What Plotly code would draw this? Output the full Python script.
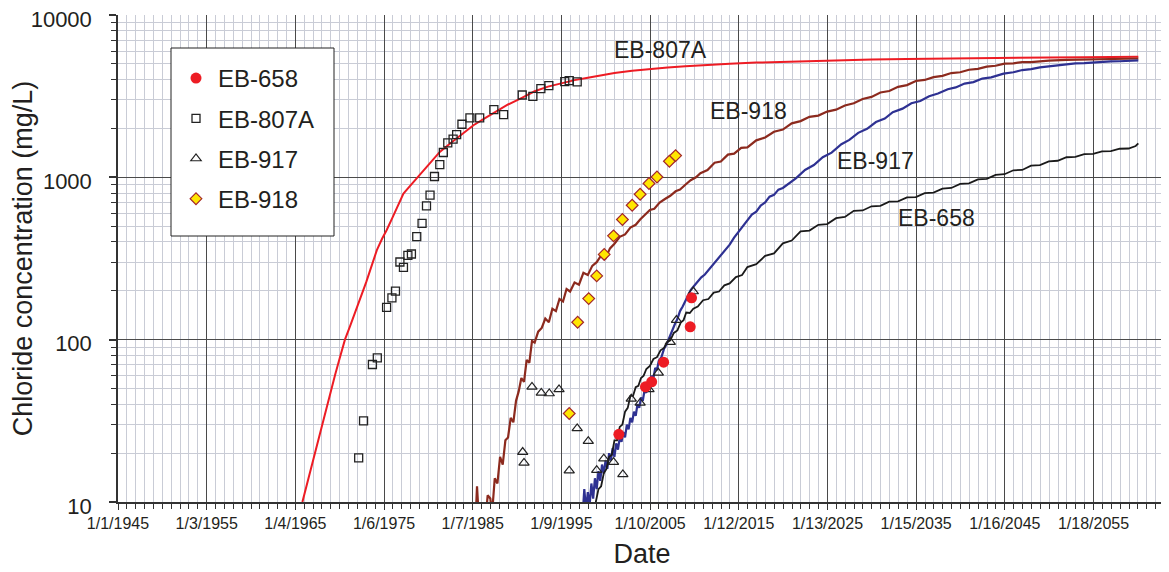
import pandas as pd
import plotly.graph_objects as go

# ---------------- data (decimal years, mg/L) ----------------
# Observed EB-658
obs658_year = [2001.5, 2004.5, 2005.2, 2006.55, 2009.55, 2009.7]
obs658_val = [26.1, 51.2, 55.0, 72.7, 120, 181]

# Observed EB-807A
obs807_year = [1972.15, 1972.7, 1973.7, 1974.25, 1975.3, 1975.9, 1976.3, 1976.8, 1977.2,
               1977.7, 1978.1, 1978.7, 1979.3, 1979.8, 1980.2, 1980.7, 1981.3, 1981.7,
               1982.2, 1982.8, 1983.2, 1983.8, 1984.7, 1985.8, 1987.4, 1988.5, 1990.6,
               1991.8, 1992.7, 1993.6, 1995.4, 1995.9, 1996.8]
obs807_val = [18.7, 31.6, 70.3, 77.2, 158, 181, 199, 301, 279,
              331, 337, 431, 521, 667, 776, 1012, 1199, 1422,
              1629, 1717, 1834, 2123, 2322, 2322, 2613, 2436, 3216,
              3155, 3523, 3673, 3890, 3945, 3873]

# Observed EB-917
obs917_year = [1990.65, 1990.8, 1991.7, 1992.75, 1993.65, 1994.75, 1995.9, 1996.8, 1998.05,
               1999.0, 1999.8, 2000.9, 2001.95, 2002.9, 2003.9, 2004.9, 2005.95, 2007.3,
               2008.0, 2009.9]
obs917_val = [20.3, 17.4, 51.2, 47.0, 46.6, 49.4, 15.6, 28.4, 23.7,
              15.7, 18.5, 17.6, 14.8, 43.2, 40.8, 49.4, 62.5, 96.6,
              132, 198]

# Observed EB-918
obs918_year = [1995.9, 1996.85, 1998.1, 1999.0, 1999.85, 2000.9, 2001.9, 2003.0, 2003.9,
               2004.9, 2005.8, 2007.2, 2007.9]
obs918_val = [35.1, 128, 179, 247, 335, 436, 550, 673, 787,
              916, 1005, 1256, 1361]

# Simulated EB-807A (red line)
sim807_year = [1965.8, 1966.3, 1966.8, 1967.3, 1967.8, 1968.3, 1968.9, 1969.5, 1970.0, 1970.6,
               1971.2, 1971.8, 1972.4, 1973.0, 1973.6, 1974.2, 1974.8, 1975.3, 1976.0, 1976.6,
               1977.2, 1978.0, 1978.9, 1980.0, 1981.3, 1982.5, 1983.8, 1985.1, 1986.5, 1987.8,
               1989.0, 1990.5, 1992.0, 1993.5, 1995.0, 1996.5, 1998.0, 1999.5, 2001.0, 2003.0,
               2005.0, 2007.0, 2009.0, 2011.0, 2014.0, 2017.0, 2020.0, 2023.0, 2026.0, 2030.0,
               2034.0, 2038.0, 2042.0, 2046.0, 2050.0, 2054.0, 2057.0, 2060.1]
sim807_val = [10, 12.8, 16.4, 21, 27, 34.7, 46.6, 61, 76.5, 100,
              122, 149, 182, 226, 284, 356, 420, 472, 571, 675,
              795, 892, 1016, 1200, 1435, 1620, 1840, 2094, 2330, 2570,
              2810, 3080, 3390, 3620, 3790, 3970, 4110, 4260, 4390, 4530,
              4650, 4750, 4840, 4920, 5010, 5090, 5150, 5210, 5260, 5320,
              5360, 5400, 5430, 5460, 5480, 5500, 5515, 5530]

# Simulated EB-918 (brown line)
sim918_year = [1985.3, 1985.5, 1985.7, 1986.0, 1986.4, 1986.7, 1987.0, 1987.2, 1987.5, 1987.8,
               1988.1, 1988.4, 1988.7, 1989.0, 1989.3, 1989.6, 1989.9, 1990.2, 1990.5, 1990.8,
               1991.1, 1991.4, 1991.7, 1992.0, 1992.4, 1992.8, 1993.2, 1993.6, 1994.0, 1994.4,
               1994.8, 1995.2, 1995.6, 1996.0, 1996.5, 1997.0, 1997.5, 1998.0, 1998.5, 1999.0,
               1999.5, 2000.0, 2000.5, 2001.0, 2001.6, 2002.2, 2002.8, 2003.4, 2003.9, 2004.5,
               2005.0, 2005.5, 2006.1, 2006.7, 2007.3, 2007.9, 2008.4, 2009.0, 2009.6, 2010.2,
               2010.7, 2011.5, 2012.3, 2013.0, 2013.8, 2014.5, 2015.3, 2016.0, 2017.0, 2018.0,
               2019.0, 2020.0, 2021.0, 2022.0, 2023.0, 2024.0, 2025.0, 2026.0, 2027.0, 2028.0,
               2029.0, 2030.0, 2031.0, 2032.0, 2033.0, 2034.0, 2035.0, 2036.0, 2037.0, 2038.0,
               2039.0, 2040.0, 2041.0, 2042.0, 2043.0, 2044.0, 2045.0, 2046.0, 2047.0, 2048.0,
               2049.0, 2050.0, 2052.0, 2054.0, 2056.0, 2058.0, 2060.1]
sim918_val = [7, 12.5, 8, 9, 7, 11, 10.5, 8.5, 14, 13,
              19, 17, 24, 25, 33, 31, 42, 48, 58, 55,
              75, 72, 98, 96, 112, 118, 135, 128, 155, 150,
              178, 172, 205, 198, 225, 218, 258, 250, 285, 300,
              330, 318, 365, 390, 430, 445, 490, 510, 550, 590,
              630, 640, 700, 735, 770, 820, 840, 900, 960, 1000,
              1060, 1110, 1230, 1250, 1380, 1400, 1520, 1530, 1690, 1760,
              1910, 1970, 2150, 2220, 2360, 2400, 2540, 2610, 2770, 2860,
              3040, 3130, 3330, 3400, 3610, 3700, 3920, 3980, 4140, 4220,
              4390, 4440, 4600, 4660, 4810, 4870, 5020, 5040, 5120, 5130,
              5210, 5240, 5290, 5310, 5350, 5360, 5395]

# Simulated EB-917 (blue line)
sim917_year = [1997.4, 1997.6, 1997.8, 1998.0, 1998.2, 1998.4, 1998.6, 1998.8, 1999.0, 1999.2,
               1999.4, 1999.6, 1999.8, 2000.0, 2000.2, 2000.4, 2000.6, 2000.8, 2001.0, 2001.2,
               2001.4, 2001.6, 2001.8, 2002.0, 2002.2, 2002.4, 2002.6, 2002.8, 2003.0, 2003.2,
               2003.4, 2003.6, 2003.8, 2004.0, 2004.2, 2004.4, 2004.6, 2004.8, 2005.0, 2005.2,
               2005.4, 2005.6, 2005.8, 2006.0, 2006.3, 2006.6, 2006.9, 2007.2, 2007.5, 2007.8,
               2008.1, 2008.4, 2008.7, 2009.0, 2009.3, 2009.6, 2010.0, 2010.4, 2010.8, 2011.2,
               2011.6, 2012.0, 2012.5, 2013.0, 2013.5, 2014.0, 2014.5, 2015.0, 2015.5, 2016.0,
               2016.5, 2017.0, 2017.5, 2018.0, 2018.5, 2019.0, 2019.5, 2020.0, 2020.8, 2021.5,
               2022.5, 2023.5, 2024.5, 2025.5, 2026.6, 2027.5, 2028.5, 2029.5, 2030.5, 2031.5,
               2032.4, 2033.5, 2034.5, 2035.5, 2036.5, 2037.5, 2038.6, 2039.5, 2040.5, 2041.5,
               2042.5, 2043.5, 2044.9, 2046.0, 2047.0, 2048.0, 2049.0, 2050.0, 2051.0, 2052.0,
               2053.0, 2054.0, 2055.0, 2056.0, 2057.0, 2058.0, 2059.0, 2060.1]
sim917_val = [8, 12, 9, 11.5, 9.5, 13, 10.5, 14, 12, 15.5,
              13.5, 17, 15, 18, 16, 20, 18, 21.5, 19, 23,
              21, 25, 23.5, 27, 25, 30, 28, 33, 31, 36,
              34, 40, 38, 44, 42, 49, 47, 54, 53, 60,
              58, 67, 65, 74, 78, 88, 94, 104, 112, 124,
              134, 150, 160, 174, 186, 202, 215, 228, 242, 252,
              268, 285, 305, 330, 355, 385, 425, 460, 505, 540,
              590, 615, 670, 700, 760, 780, 840, 860, 930, 990,
              1110, 1190, 1330, 1420, 1600, 1700, 1880, 1990, 2190, 2300,
              2520, 2650, 2860, 2950, 3160, 3280, 3490, 3580, 3780, 3860,
              4060, 4130, 4350, 4440, 4580, 4640, 4760, 4820, 4920, 4950,
              5030, 5050, 5110, 5130, 5180, 5190, 5230, 5250]

# Simulated EB-658 (black line)
sim658_year = [1998.7, 1998.9, 1999.2, 1999.5, 1999.8, 2000.1, 2000.4, 2000.7, 2001.0, 2001.3,
               2001.6, 2001.9, 2002.2, 2002.5, 2002.8, 2003.1, 2003.4, 2003.7, 2004.0, 2004.3,
               2004.6, 2005.0, 2005.4, 2005.8, 2006.2, 2006.6, 2006.9, 2007.3, 2007.7, 2008.1,
               2008.5, 2008.8, 2009.1, 2009.5, 2009.9, 2010.4, 2011.0, 2011.6, 2012.2, 2012.8,
               2013.4, 2014.0, 2014.7, 2015.4, 2016.0, 2017.0, 2018.0, 2019.0, 2020.0, 2021.0,
               2022.0, 2023.0, 2024.0, 2025.0, 2026.0, 2027.0, 2028.0, 2029.0, 2030.0, 2031.0,
               2032.0, 2033.0, 2034.0, 2035.0, 2036.0, 2037.0, 2038.0, 2039.0, 2040.0, 2041.0,
               2042.0, 2043.0, 2044.0, 2045.0, 2046.0, 2047.0, 2048.0, 2049.0, 2050.0, 2051.0,
               2052.0, 2053.0, 2054.0, 2055.0, 2056.0, 2057.0, 2058.0, 2059.0, 2059.8, 2060.1]
sim658_val = [8, 10, 12, 12.5, 15, 16, 19, 19.5, 24, 24,
              29, 30, 36, 38, 45, 45, 51, 52, 58, 60,
              66, 69, 76, 78, 86, 89, 96, 99, 110, 114,
              128, 132, 147, 146, 155, 160, 175, 178, 195, 198,
              216, 222, 243, 250, 280, 292, 328, 340, 392, 408,
              465, 470, 510, 515, 560, 570, 622, 625, 663, 668,
              708, 712, 752, 756, 800, 805, 852, 860, 912, 918,
              972, 978, 1035, 1045, 1105, 1110, 1180, 1190, 1255, 1265,
              1330, 1335, 1390, 1395, 1445, 1450, 1500, 1505, 1560, 1620]

# Axis text
ytick_vals = [10, 100, 1000, 10000]
ytick_text = ["10", "100", "1000", "10000"]

# ---------------- helpers ----------------
ORIGIN = pd.Timestamp("1945-01-01")


def to_dates(years):
    return [ORIGIN + pd.to_timedelta((y - 1945.0) * 365.25, unit="D") for y in years]


DAY_MS = 86400000
MAJOR_MS = 3654 * DAY_MS
MINOR_MS = 365.4 * DAY_MS
X_END = ORIGIN + pd.Timedelta(days=43180)

FONT = "Arial, Liberation Sans, sans-serif"
TXT = "#231f20"
RED = "#ed1c24"
BROWN = "#8c2a1e"
BLUE = "#2e3192"
BLACK = "#1a1a1a"
MINOR_GRID = "#c9ccd6"
MAJOR_GRID = "#4a4a4a"

# figure placed at (8, 8) by the page's body margin
W, H = 1161, 564
ML, MR, MT, MB = 110, 3, 7, 70
PW = W - ML - MR
PH = H - MT - MB


def px2paper(px, py):
    # reference-image pixel -> paper coords
    return (px - 8 - ML) / PW, (H - MB - (py - 8)) / PH


fig = go.Figure()

# simulated lines (not in legend)
fig.add_trace(go.Scatter(x=to_dates(sim807_year), y=sim807_val, mode="lines",
                         line=dict(color=RED, width=2), showlegend=False, hoverinfo="skip"))
fig.add_trace(go.Scatter(x=to_dates(sim918_year), y=sim918_val, mode="lines",
                         line=dict(color=BROWN, width=2.2), showlegend=False, hoverinfo="skip"))
fig.add_trace(go.Scatter(x=to_dates(sim917_year), y=sim917_val, mode="lines",
                         line=dict(color=BLUE, width=2.2), showlegend=False, hoverinfo="skip"))
fig.add_trace(go.Scatter(x=to_dates(sim658_year), y=sim658_val, mode="lines",
                         line=dict(color=BLACK, width=1.8), showlegend=False, hoverinfo="skip"))

# observations
fig.add_trace(go.Scatter(x=to_dates(obs807_year), y=obs807_val, mode="markers", name="EB-807A",
                         legendgroup="b", legendrank=2,
                         marker=dict(symbol="square-open", size=8, color="#222222",
                                     line=dict(width=1.3))))
fig.add_trace(go.Scatter(x=to_dates(obs917_year), y=obs917_val, mode="markers", name="EB-917",
                         legendgroup="c", legendrank=3,
                         marker=dict(symbol="triangle-up-open", size=9, color="#222222",
                                     line=dict(width=1.2))))
fig.add_trace(go.Scatter(x=to_dates(obs918_year), y=obs918_val, mode="markers", name="EB-918",
                         legendgroup="d", legendrank=4,
                         marker=dict(symbol="diamond", size=9, color="#ffe600",
                                     line=dict(color="#a3262a", width=1.2))))
fig.add_trace(go.Scatter(x=to_dates(obs658_year), y=obs658_val, mode="markers", name="EB-658",
                         legendgroup="a", legendrank=1,
                         marker=dict(symbol="circle", size=11, color=RED, line=dict(width=0))))

lx, ly = px2paper(171, 48)
lx2, ly2 = px2paper(334, 236)
gx, gy = px2paper(174, 56)

fig.update_layout(
    width=W, height=H,
    margin=dict(l=ML, r=MR, t=MT, b=MB),
    paper_bgcolor="white", plot_bgcolor="white",
    font=dict(family=FONT, color=TXT),
    showlegend=True,
    legend=dict(x=gx, y=gy, xanchor="left", yanchor="top",
                bgcolor="rgba(0,0,0,0)", borderwidth=0,
                font=dict(size=24, family=FONT, color=TXT),
                traceorder="grouped", tracegroupgap=6, itemwidth=34),
    shapes=[dict(type="rect", xref="paper", yref="paper", x0=lx, y0=ly2, x1=lx2, y1=ly,
                 fillcolor="white", line=dict(color="#222222", width=1), layer="above")],
    xaxis=dict(
        type="date", range=[ORIGIN, X_END], automargin=False,
        tick0=ORIGIN, dtick=MAJOR_MS, tickformat="%-m/%-d/%Y",
        tickfont=dict(size=16, family=FONT, color=TXT),
        showgrid=True, gridcolor=MAJOR_GRID, gridwidth=1,
        ticks="outside", ticklen=6, tickcolor="#333333", tickwidth=1.2,
        showline=True, linecolor="#333333", linewidth=2,
        minor=dict(dtick=MINOR_MS, tick0=ORIGIN, showgrid=True, gridcolor=MINOR_GRID,
                   gridwidth=1, ticks="outside", ticklen=5, tickcolor="#333333", tickwidth=1),
        title=dict(text="Date", font=dict(size=27, family=FONT, color=TXT), standoff=13),
        zeroline=False,
    ),
    yaxis=dict(
        type="log", range=[1, 4], automargin=False,
        tickvals=ytick_vals, ticktext=ytick_text,
        tickfont=dict(size=22, family=FONT, color=TXT),
        ticklabeloverflow="allow", ticklabelshift=4,
        showgrid=True, gridcolor=MAJOR_GRID, gridwidth=1,
        ticks="outside", ticklen=7, tickcolor="#333333", tickwidth=1.5,
        ticklabelstandoff=13,
        showline=True, linecolor="#333333", linewidth=1.5,
        minor=dict(dtick="D1", showgrid=True, gridcolor=MINOR_GRID, gridwidth=1,
                   ticks="outside", ticklen=5, tickcolor="#333333", tickwidth=1),
        title=dict(text="Chloride concentration (mg/L)",
                   font=dict(size=27, family=FONT, color=TXT), standoff=2),
        zeroline=False,
    ),
    xaxis2=dict(
        type="date", overlaying="x", matches="x", anchor="y", side="bottom",
        tick0=ORIGIN, dtick=MAJOR_MS, showticklabels=False, showgrid=False,
        ticks="inside", ticklen=6, tickcolor="#333333", tickwidth=1.2,
        minor=dict(dtick=MINOR_MS, tick0=ORIGIN, showgrid=False, ticks="inside",
                   ticklen=5, tickcolor="#333333", tickwidth=1),
        showline=False, zeroline=False,
    ),
    yaxis2=dict(
        type="log", overlaying="y", matches="y", anchor="x", side="left",
        tickvals=ytick_vals, showticklabels=False, showgrid=False,
        ticks="inside", ticklen=6, tickcolor="#333333", tickwidth=1.5,
        minor=dict(dtick="D1", showgrid=False, ticks="inside", ticklen=4,
                   tickcolor="#333333", tickwidth=1),
        showline=False, zeroline=False,
    ),
)

# curve labels (centres in reference pixels)
labels = [("EB-807A", 660, 50), ("EB-918", 748, 111), ("EB-917", 875, 161), ("EB-658", 936, 218)]
for text, px, py in labels:
    ax_, ay_ = px2paper(px, py)
    fig.add_annotation(text=text, x=ax_, y=ay_, xref="paper", yref="paper",
                       xanchor="center", yanchor="middle",
                       showarrow=False, font=dict(size=23, family=FONT, color=TXT))

fig.write_html("out.html")
